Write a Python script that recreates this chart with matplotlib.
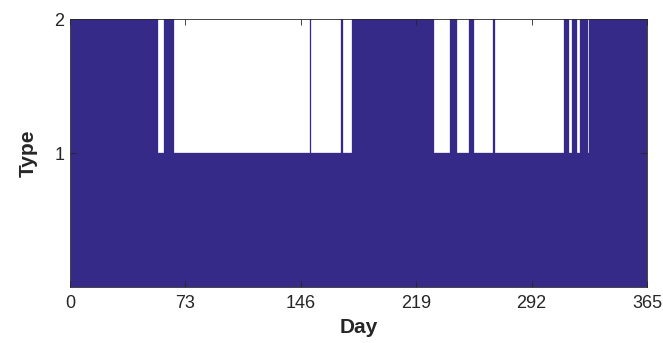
import numpy as np
import matplotlib
matplotlib.use('Agg')
import matplotlib.pyplot as plt

plt.rcParams['font.family'] = ['Liberation Sans', 'DejaVu Sans']

# days whose type is 1 (everything else is type 2)
type1_ranges = [(56, 59), (66, 151), (153, 171), (173, 178), (231, 240),
                (245, 252), (256, 267), (269, 312), (316, 317), (321, 322),
                (328, 328)]

days = np.arange(1, 366)
types = np.full(365, 2)
for a, b in type1_ranges:
    types[(days >= a) & (days <= b)] = 1

xticks = [0, 73, 146, 219, 292, 365]
yticks = [1, 2]
bar_color = '#352a87'

fig = plt.figure(figsize=(6.63, 3.43), dpi=100)
ax = fig.add_axes([0.1056, 0.163, 0.8704, 0.781])

ax.bar(days, types, width=1, color=bar_color, edgecolor=bar_color,
       linewidth=0.2)

ax.set_xlim(0, 365)
ax.set_ylim(0, 2)
ax.set_xticks(xticks)
ax.set_yticks(yticks)
ax.tick_params(direction='in', top=True, right=True, labelsize=13,
               colors='#262626', length=4, width=0.6)
ax.tick_params(axis='x', pad=6)
ax.tick_params(axis='y', pad=4)
for s in ax.spines.values():
    s.set_color('#262626')
    s.set_linewidth(0.6)
ax.set_xlabel('Day', fontsize=15, fontweight='bold', color='#262626', labelpad=4)
ax.set_ylabel('Type', fontsize=15, fontweight='bold', color='#262626', labelpad=12)

fig.savefig('out.png', dpi=100)
